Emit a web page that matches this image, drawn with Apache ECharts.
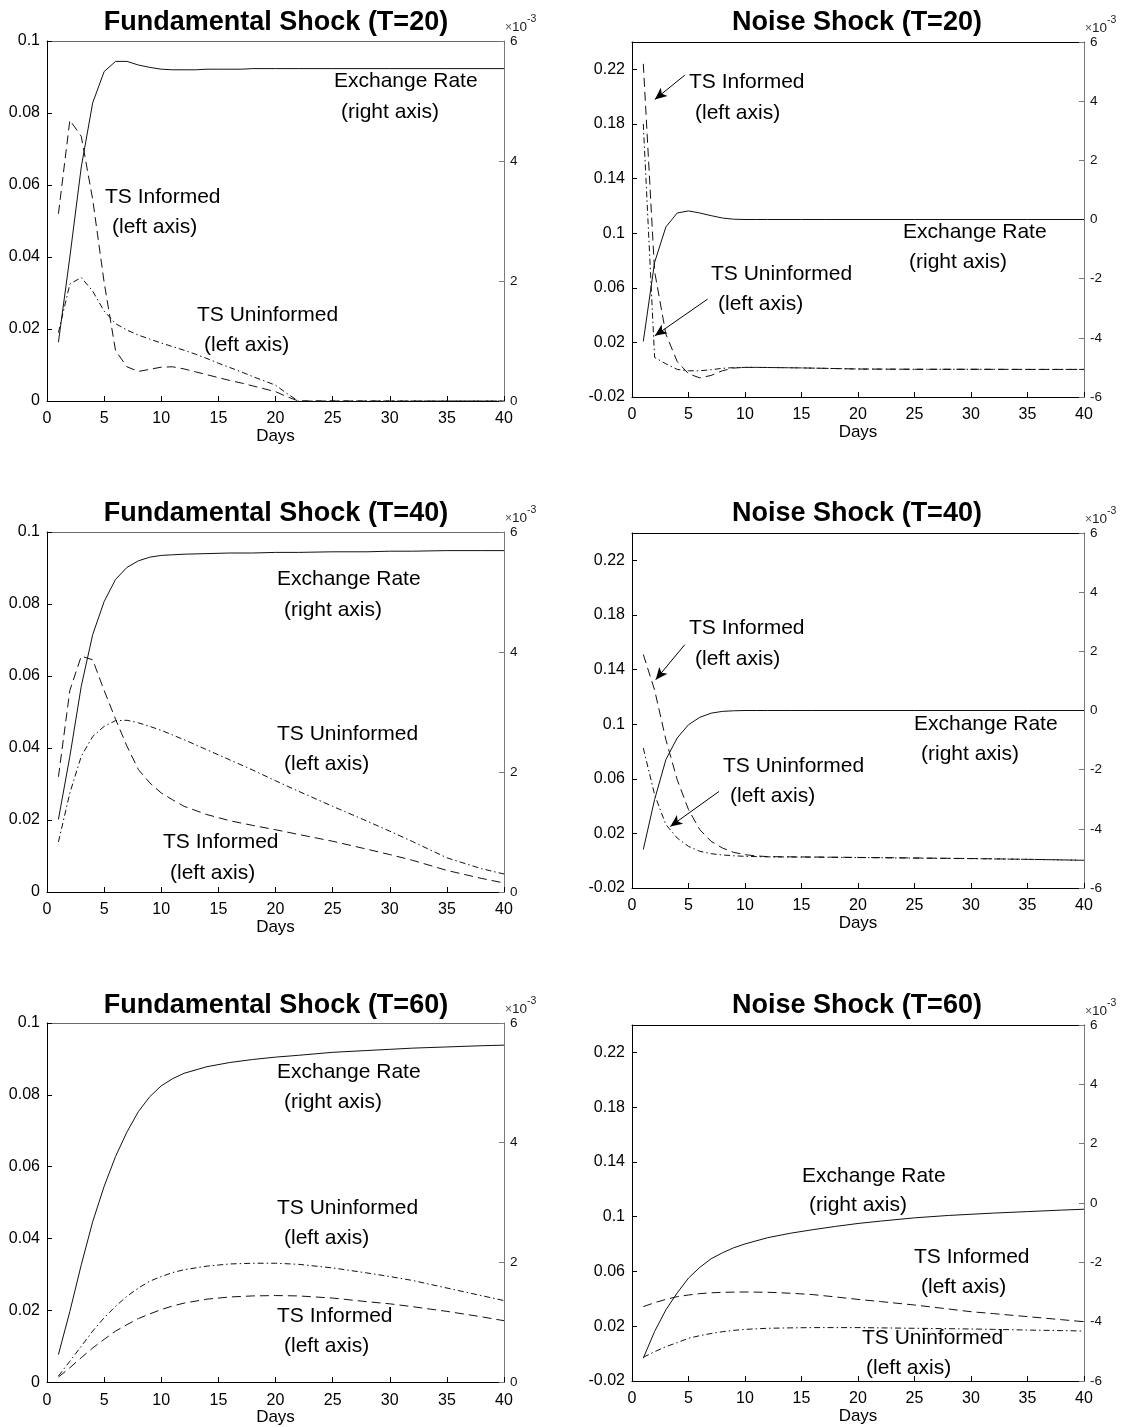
<!DOCTYPE html>
<html>
<head>
<meta charset="utf-8">
<title>Impulse responses: fundamental and noise shocks</title>
<script src="https://cdn.jsdelivr.net/npm/echarts@6/dist/echarts.min.js"></script>
<style>
  html, body { margin: 0; padding: 0; background: #fff; }
  #chart { width: 1127px; height: 1427px; }
</style>
</head>
<body>
<div id="chart"></div>
<script>
// ---------------- data ----------------
// Exchange rate responses are in units of 1e-3 (right axis); trading-strategy
// responses are on the left axis.

// Fundamental shock, T = 20
const fund20Days = [1,2,3,4,5,6,7,8,9,10,11,12,13,14,15,16,17,18,19,20,21,22,25,30,35,40];
const fund20Exchange = [0.98,2.4,3.9,4.97,5.49,5.66,5.66,5.6,5.56,5.53,5.52,5.52,5.52,5.53,5.53,5.53,5.53,5.54,5.54,5.54,5.54,5.54,5.54,5.54,5.54,5.54];
const fund20Informed = [0.052,0.078,0.0735,0.056,0.033,0.014,0.0095,0.0082,0.0088,0.0094,0.0095,0.0089,0.0081,0.0073,0.0065,0.0057,0.005,0.0042,0.0034,0.0026,0.0012,0,0,0,0,0];
const fund20Uninformed = [0.019,0.0325,0.0343,0.0305,0.025,0.0215,0.0197,0.0183,0.0172,0.0161,0.0151,0.0141,0.013,0.0118,0.0105,0.0093,0.0081,0.0068,0.0056,0.0044,0.0021,0,0,0,0,0];

// Noise shock, T = 20
const noise20Days = [1,2,3,4,5,6,7,8,9,10,11,12,15,17,20,25,30,35,40];
const noise20Exchange = [-4.12,-1.45,-0.25,0.22,0.29,0.22,0.13,0.05,0.01,0,0,0,0,0,0,0,0,0,0];
const noise20Informed = [0.224,0.072,0.026,0.006,-0.003,-0.006,-0.0042,-0.0008,0.0012,0.0017,0.0017,0.0016,0.0013,0.001,0.0005,0.0003,0.0003,0.0002,0.0002];
const noise20Uninformed = [0.18,0.009,0.0043,0.0002,-0.0008,-0.0008,0,0.001,0.0015,0.0017,0.0017,0.0016,0.0013,0.001,0.0005,0.0003,0.0003,0.0002,0.0002];

// Fundamental shock, T = 40
const fund40Days = [1,2,3,4,5,6,7,8,9,10,11,12,14,16,18,20,22,25,28,30,32,35,38,40];
const fund40Exchange = [1.21,2.26,3.43,4.29,4.84,5.21,5.41,5.52,5.58,5.61,5.62,5.63,5.64,5.65,5.65,5.66,5.66,5.67,5.67,5.68,5.68,5.69,5.69,5.69];
const fund40Informed = [0.032,0.056,0.0655,0.0645,0.056,0.048,0.0405,0.034,0.0303,0.0275,0.0256,0.0238,0.0215,0.0198,0.0185,0.0173,0.016,0.0141,0.0119,0.0104,0.0088,0.006,0.0038,0.0025];
const fund40Uninformed = [0.0139,0.0275,0.0377,0.0432,0.046,0.0476,0.0477,0.047,0.046,0.0449,0.0436,0.0423,0.0395,0.0367,0.0339,0.0309,0.028,0.0238,0.0197,0.0169,0.014,0.0095,0.0065,0.005];

// Noise shock, T = 40
const noise40Days = [1,2,3,4,5,6,7,8,9,10,11,12,14,16,20,25,30,35,40];
const noise40Exchange = [-4.7,-3.01,-1.66,-0.93,-0.48,-0.23,-0.09,-0.03,-0.01,0,0,0,0,0,0,0,0,0,0];
const noise40Informed = [0.151,0.125,0.0886,0.0593,0.0374,0.0227,0.0142,0.0093,0.0061,0.0044,0.0035,0.003,0.0028,0.0027,0.0024,0.002,0.0016,0.001,0.0003];
const noise40Uninformed = [0.0825,0.0484,0.0264,0.0166,0.0105,0.0069,0.0051,0.0042,0.0036,0.0032,0.003,0.0028,0.0027,0.0026,0.0023,0.0019,0.0015,0.001,0.0003];

// Fundamental shock, T = 60
const fund60Days = [1,2,3,4,5,6,7,8,9,10,11,12,14,16,18,20,22,25,28,30,32,35,38,40];
const fund60Exchange = [0.46,1.18,1.96,2.68,3.27,3.77,4.18,4.52,4.77,4.95,5.07,5.16,5.27,5.34,5.39,5.43,5.46,5.51,5.54,5.56,5.58,5.6,5.62,5.63];
const fund60Informed = [0.0014,0.004,0.0068,0.0095,0.0119,0.0142,0.016,0.0177,0.019,0.0202,0.0212,0.022,0.0231,0.0237,0.024,0.0241,0.024,0.0234,0.0224,0.0218,0.021,0.0197,0.0182,0.0171];
const fund60Uninformed = [0.0017,0.0058,0.01,0.0142,0.0179,0.0211,0.0239,0.0262,0.0281,0.0294,0.0305,0.0313,0.0323,0.0329,0.0331,0.0331,0.0328,0.0318,0.0304,0.0294,0.0283,0.0262,0.0241,0.0227];

// Noise shock, T = 60
const noise60Days = [1,2,3,4,5,6,7,8,9,10,12,14,16,18,20,22,25,28,30,32,35,38,40];
const noise60Exchange = [-5.23,-4.33,-3.6,-3.03,-2.53,-2.17,-1.88,-1.68,-1.51,-1.38,-1.17,-1.02,-0.9,-0.79,-0.69,-0.61,-0.5,-0.42,-0.38,-0.34,-0.29,-0.24,-0.21];
const noise60Informed = [0.0343,0.0372,0.0396,0.0416,0.0428,0.0438,0.0444,0.0448,0.0449,0.045,0.0448,0.0441,0.0431,0.0414,0.0396,0.038,0.0355,0.0326,0.0306,0.0292,0.027,0.0248,0.0233];
const noise60Uninformed = [-0.0027,0.0014,0.0051,0.008,0.0112,0.0131,0.0147,0.016,0.017,0.0177,0.0185,0.0188,0.019,0.019,0.019,0.0188,0.0185,0.0182,0.018,0.0177,0.0172,0.0168,0.0165];

// Axis ticks
const dayTicks = { min: 0, max: 40, interval: 5 };
const fundLeftTicks = { min: 0, max: 0.1, interval: 0.02 };
const noiseLeftTicks = [-0.02, 0.02, 0.06, 0.1, 0.14, 0.18, 0.22];
const noiseLeftRange = { min: -0.02, max: 0.24 };
const fundRightTicks = { min: 0, max: 6, interval: 2 };
const noiseRightTicks = { min: -6, max: 6, interval: 2 };

const panelTitles = [
  'Fundamental Shock (T=20)', 'Noise Shock (T=20)',
  'Fundamental Shock (T=40)', 'Noise Shock (T=40)',
  'Fundamental Shock (T=60)', 'Noise Shock (T=60)'
];

// ---------------- layout & style ----------------
const FONT = '"Liberation Sans", Arial, Helvetica, sans-serif';
const INK = '#000';
const GREY_AXIS = '#7a7a7a';
const LINE_COLOR = '#111';
const DASH = [9, 5];
const DASH_DOT = [6, 3, 1.5, 3];

const panels = [
  { kind: 'fund',  grid: { left: 47,  top: 41,   width: 457, height: 360 }, titleX: 276, titleTop: 9,
    days: fund20Days,  ex: fund20Exchange,  inf: fund20Informed,  uninf: fund20Uninformed },
  { kind: 'noise', grid: { left: 632, top: 42,   width: 452, height: 355 }, titleX: 857, titleTop: 9,
    days: noise20Days, ex: noise20Exchange, inf: noise20Informed, uninf: noise20Uninformed,
    arrows: [ [[4.67, 0.2157], [2.02, 0.1979]], [[6.69, 0.0517], [2.02, 0.0248]] ] },
  { kind: 'fund',  grid: { left: 47,  top: 532,  width: 457, height: 360 }, titleX: 276, titleTop: 500,
    days: fund40Days,  ex: fund40Exchange,  inf: fund40Informed,  uninf: fund40Uninformed },
  { kind: 'noise', grid: { left: 632, top: 533,  width: 452, height: 355 }, titleX: 857, titleTop: 500,
    days: noise40Days, ex: noise40Exchange, inf: noise40Informed, uninf: noise40Uninformed,
    arrows: [ [[4.67, 0.1582], [2.1, 0.1326]], [[7.7, 0.0507], [3.39, 0.0251]] ] },
  { kind: 'fund',  grid: { left: 47,  top: 1023, width: 457, height: 361 }, titleX: 276, titleTop: 992,
    days: fund60Days,  ex: fund60Exchange,  inf: fund60Informed,  uninf: fund60Uninformed },
  { kind: 'noise', grid: { left: 632, top: 1025, width: 452, height: 356 }, titleX: 857, titleTop: 992,
    days: noise60Days, ex: noise60Exchange, inf: noise60Informed, uninf: noise60Uninformed }
];

// Curve labels: [left x, middle y, text]
const annotations = [
  [334, 81, 'Exchange Rate'], [341, 112, '(right axis)'],
  [105, 197, 'TS Informed'], [112, 227, '(left axis)'],
  [197, 315, 'TS Uninformed'], [204, 345, '(left axis)'],

  [689, 82, 'TS Informed'], [695, 113, '(left axis)'],
  [903, 232, 'Exchange Rate'], [909, 262, '(right axis)'],
  [711, 274, 'TS Uninformed'], [718, 304, '(left axis)'],

  [277, 579, 'Exchange Rate'], [284, 610, '(right axis)'],
  [277, 734, 'TS Uninformed'], [284, 764, '(left axis)'],
  [163, 842, 'TS Informed'], [170, 873, '(left axis)'],

  [689, 628, 'TS Informed'], [695, 659, '(left axis)'],
  [914, 724, 'Exchange Rate'], [921, 754, '(right axis)'],
  [723, 766, 'TS Uninformed'], [730, 796, '(left axis)'],

  [277, 1072, 'Exchange Rate'], [284, 1102, '(right axis)'],
  [277, 1208, 'TS Uninformed'], [284, 1238, '(left axis)'],
  [277, 1316, 'TS Informed'], [284, 1346, '(left axis)'],

  [802, 1176, 'Exchange Rate'], [809, 1205, '(right axis)'],
  [914, 1257, 'TS Informed'], [921, 1287, '(left axis)'],
  [862, 1338, 'TS Uninformed'], [866, 1368, '(left axis)']
];

// ---------------- option assembly ----------------
const pairs = (days, vals) => days.map((d, i) => [d, vals[i]]);
const fmt = v => String(+v.toFixed(3));

const grid = [], xAxis = [], yAxis = [], series = [], title = [];

panels.forEach((p, i) => {
  const isFund = p.kind === 'fund';
  grid.push(Object.assign({ containLabel: false }, p.grid));

  title.push({
    text: panelTitles[i], left: p.titleX, top: p.titleTop, textAlign: 'center', padding: 0,
    textStyle: { fontFamily: FONT, fontSize: 27, fontWeight: 'bold', color: INK }
  });

  // bottom axis with labels
  xAxis.push({
    gridIndex: i, type: 'value', position: 'bottom',
    min: dayTicks.min, max: dayTicks.max, interval: dayTicks.interval,
    axisLine: { show: true, onZero: false, lineStyle: { color: INK, width: 1 } },
    axisTick: { show: true, inside: true, length: 5, lineStyle: { color: INK } },
    axisLabel: { show: true, margin: 10, fontFamily: FONT, fontSize: 16, color: INK },
    splitLine: { show: false },
    name: 'Days', nameLocation: 'middle', nameGap: 24,
    nameTextStyle: { fontFamily: FONT, fontSize: 17, color: INK }
  });
  // top border
  xAxis.push({
    gridIndex: i, type: 'value', position: 'top',
    min: dayTicks.min, max: dayTicks.max, interval: dayTicks.interval,
    axisLine: { show: true, onZero: false, lineStyle: { color: isFund ? '#6a6a6a' : INK, width: 1 } },
    axisTick: { show: false }, axisLabel: { show: false }, splitLine: { show: false }
  });

  // left axis (trading strategies)
  const left = {
    gridIndex: i, type: 'value', position: 'left',
    axisLine: { show: true, onZero: false, lineStyle: { color: INK, width: 1 } },
    axisTick: { show: true, inside: true, length: 5, lineStyle: { color: INK } },
    axisLabel: { show: true, margin: 7, fontFamily: FONT, fontSize: 16, color: INK, formatter: fmt },
    splitLine: { show: false }
  };
  if (isFund) {
    Object.assign(left, fundLeftTicks);
  } else {
    Object.assign(left, noiseLeftRange, { interval: 0.02 });
    left.axisLabel.customValues = noiseLeftTicks;
    left.axisTick.customValues = noiseLeftTicks;
  }
  yAxis.push(left);

  // right axis (exchange rate, x1e-3)
  const rt = isFund ? fundRightTicks : noiseRightTicks;
  yAxis.push({
    gridIndex: i, type: 'value', position: 'right',
    min: rt.min, max: rt.max, interval: rt.interval,
    axisLine: { show: true, onZero: false, lineStyle: { color: GREY_AXIS, width: 1 } },
    axisTick: { show: true, inside: true, length: 5, lineStyle: { color: GREY_AXIS } },
    axisLabel: { show: true, margin: 6, fontFamily: FONT, fontSize: 13.5, color: '#111' },
    splitLine: { show: false },
    name: '{x|\u00d7}{b|10}{s|-3}', nameLocation: 'end', nameGap: 11,
    nameTextStyle: {
      align: 'left', verticalAlign: 'middle', padding: [0, 0, 0, 1],
      rich: {
        x: { fontFamily: FONT, fontSize: 12, color: '#555', lineHeight: 20, verticalAlign: 'bottom' },
        b: { fontFamily: FONT, fontSize: 13.5, color: '#222', lineHeight: 20, verticalAlign: 'bottom' },
        s: { fontFamily: FONT, fontSize: 10.5, color: '#222', lineHeight: 20, verticalAlign: 'top' }
      }
    }
  });

  const xIdx = i * 2, yL = i * 2, yR = i * 2 + 1;
  const base = {
    type: 'line', xAxisIndex: xIdx, showSymbol: false, symbol: 'none',
    smooth: false, clip: true, silent: true, z: 3
  };
  series.push(Object.assign({}, base, {
    name: 'Exchange Rate', yAxisIndex: yR, data: pairs(p.days, p.ex),
    lineStyle: { color: LINE_COLOR, width: 1, type: 'solid' }
  }));
  const informed = Object.assign({}, base, {
    name: 'TS Informed', yAxisIndex: yL, data: pairs(p.days, p.inf),
    lineStyle: { color: LINE_COLOR, width: 1, type: DASH }
  });
  if (p.arrows) {
    informed.markLine = {
      silent: true, symbol: ['none', 'arrow'], symbolSize: [8, 12], precision: 6,
      label: { show: false },
      lineStyle: { color: INK, width: 1, type: 'solid' },
      emphasis: { disabled: true },
      data: p.arrows.map(a => [{ coord: a[0] }, { coord: a[1] }])
    };
  }
  series.push(informed);
  series.push(Object.assign({}, base, {
    name: 'TS Uninformed', yAxisIndex: yL, data: pairs(p.days, p.uninf),
    lineStyle: { color: LINE_COLOR, width: 1, type: DASH_DOT }
  }));
});

const graphic = annotations.map(a => ({
  type: 'text', x: a[0], y: a[1], silent: true, z: 10,
  style: { text: a[2], fontFamily: FONT, fontSize: 21, fill: INK, align: 'left', verticalAlign: 'middle' }
}));

const chart = echarts.init(document.getElementById('chart'), null, { renderer: 'canvas' });
chart.setOption({
  backgroundColor: '#fff',
  animation: false,
  title, grid, xAxis, yAxis, series, graphic,
  tooltip: { show: false }
});
</script>
</body>
</html>
